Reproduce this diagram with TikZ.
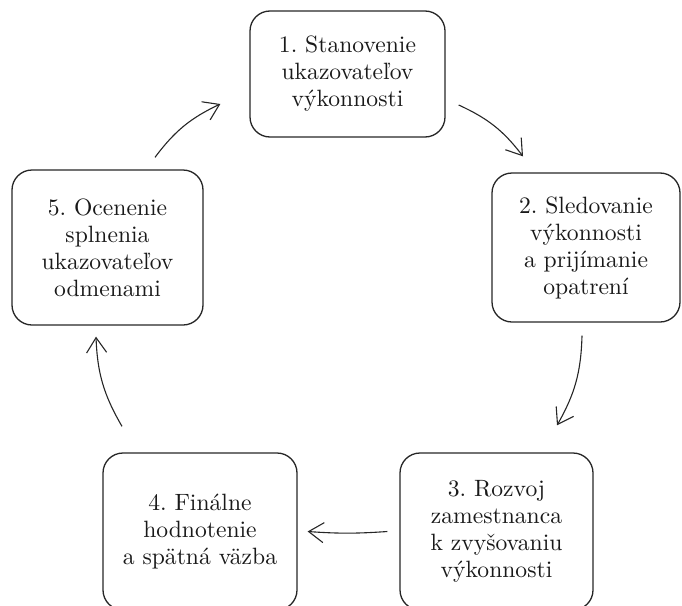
\documentclass[tikz,border=0pt]{standalone}
\usepackage{fontspec}
\usetikzlibrary{arrows.meta}
% text face: Latin Modern at its 10pt design size, scaled up
\newfontfamily\stagefont{lmroman10-regular}[Extension=.otf]
\frenchspacing
\begin{document}
\begin{tikzpicture}[x=1pt,y=-1pt,
  stage/.style={draw=black!85, line width=1.3pt, rounded corners=20pt,
    inner sep=0pt, align=center, text=black!90,
    font=\stagefont\fontsize{23.6}{27}\selectfont},
  flow/.style={draw=black!85, line width=1.1pt,
    -{Straight Barb[length=15pt,width=20pt,line width=1.1pt]}}]
  \useasboundingbox (0,0) rectangle (682,605);
  \clip (0,0) rectangle (682,605);

  % process stages
  \node[stage, minimum width=195pt, minimum height=126pt] (s1) at (347.5,74)
    {1. Stanovenie\\ukazovateľov\\výkonnosti};
  \node[stage, minimum width=188pt, minimum height=149pt] (s2) at (586,247.5)
    {2. Sledovanie\\výkonnosti\\a prijímanie\\opatrení};
  \node[stage, minimum width=193pt, minimum height=157pt] (s3) at (496.5,531.5)
    {3. Rozvoj\\zamestnanca\\k zvyšovaniu\\výkonnosti};
  \node[stage, minimum width=194pt, minimum height=157pt] (s4) at (200,531.5)
    {4. Finálne\\hodnotenie\\a spätná väzba};
  \node[stage, minimum width=191pt, minimum height=155pt] (s5) at (107.5,247.5)
    {5. Ocenenie\\splnenia\\ukazovateľov\\odmenami};

  % cycle connectors
  \draw[flow] ([shift={(47.5,-12)}]s5.north) to[bend left=14] ([shift={(-29,30)}]s1.west);
  \draw[flow] ([shift={(13,31)}]s1.east) to[bend left=14] ([shift={(-63,-16)}]s2.north);
  \draw[flow] ([shift={(-4,13)}]s2.south) to[bend left=14] ([shift={(60.5,-27)}]s3.north);
  \draw[flow] ([shift={(-12,0)}]s3.west) to[bend left=4] ([shift={(10,0)}]s4.east);
  \draw[flow] ([shift={(-78,-26)}]s4.north) to[bend left=14] ([shift={(-11.5,11)}]s5.south);
\end{tikzpicture}
\end{document}
